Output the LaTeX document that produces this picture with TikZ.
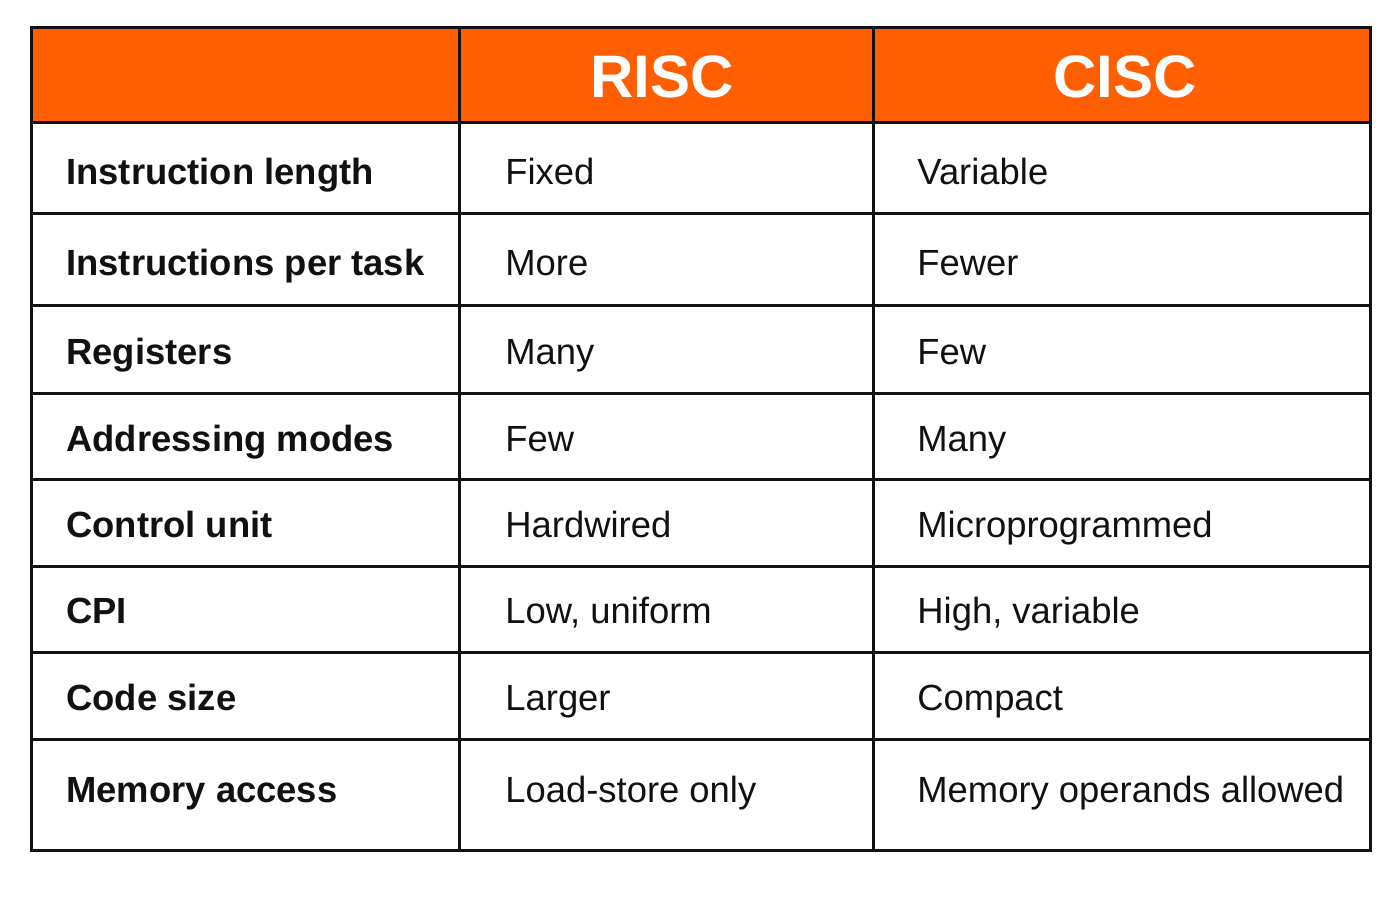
\documentclass[tikz,border=0pt]{standalone}
\usepackage{fontspec}
\setmainfont{Liberation Sans}
\definecolor{hdr}{HTML}{FF5F00}
\definecolor{ink}{HTML}{111111}
\begin{document}
\begin{tikzpicture}[x=0.5pt,y=-0.5pt,
  rowlab/.style={anchor=base west,inner sep=0pt,font=\fontsize{18.2}{22}\selectfont\bfseries,text=ink},
  cell/.style={anchor=base west,inner sep=0pt,font=\fontsize{18.2}{22}\selectfont,text=ink},
  head/.style={anchor=base,inner sep=0pt,font=\fontsize{30}{36}\selectfont\bfseries,text=white},
  grid/.style={line width=1.5pt,draw=ink}]
\useasboundingbox (0,0) rectangle (1400,900);
\fill[hdr] (31,27) rectangle (1370,122);
\foreach \y in {122,213,305,393,479,566,652,739} \draw[grid] (31,\y) -- (1370,\y);
\draw[grid] (459,27) -- (459,850);
\draw[grid] (873,27) -- (873,850);
\draw[grid] (31,27) rectangle (1370,850);
\node[head] (h1) at (662,97) {RISC};
\node[head] (h2) at (1125,97) {CISC};
\foreach \y/\a/\b/\c [count=\i] in {
  184/Instruction length/Fixed/Variable,
  275/Instructions per task/More/Fewer,
  364/Registers/Many/Few,
  451/Addressing modes/Few/Many,
  537/Control unit/Hardwired/Microprogrammed,
  623/CPI/{Low, uniform}/{High, variable},
  710/Code size/Larger/Compact,
  802/Memory access/Load-store only/Memory operands allowed} {
  \node[rowlab] (r\i) at (66,\y) {\a};
  \node[cell] (a\i) at (505,\y) {\b};
  \node[cell] (b\i) at (917,\y) {\c};
}
\end{tikzpicture}
\end{document}
